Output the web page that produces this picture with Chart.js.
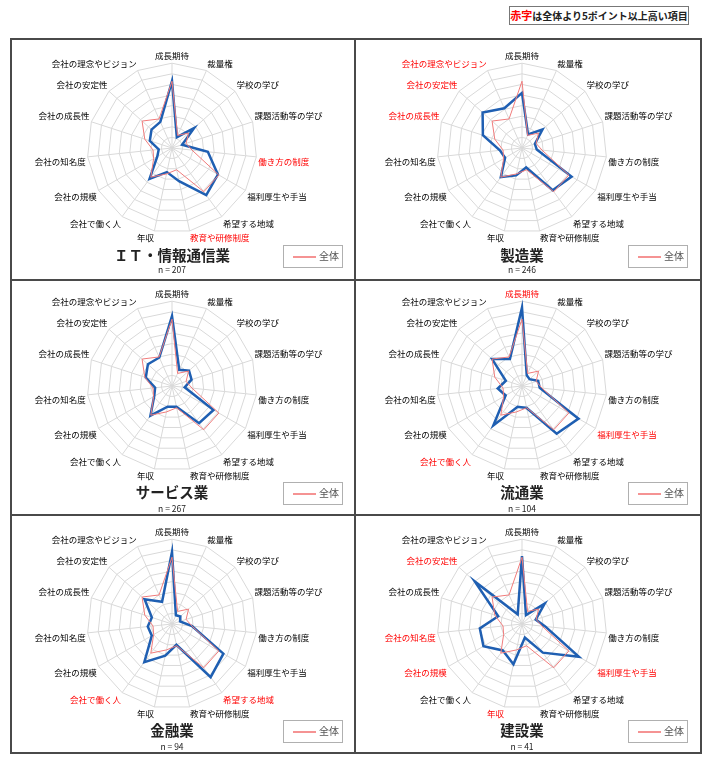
<!DOCTYPE html>
<html lang="ja">
<head>
<meta charset="utf-8">
<script src="https://cdn.jsdelivr.net/npm/chart.js@4.4.0/dist/chart.umd.min.js"></script>
<style>
  body { margin: 0; width: 710px; height: 760px; background: #fff; position: relative; overflow: hidden;
         font-family: "Noto Sans CJK JP", "Noto Sans", sans-serif; }
  #note { position: absolute; left: 509px; top: 6px; width: 178px; height: 17px; border: 1px solid #777;
          font-size: 10px; font-weight: bold; line-height: 17px; text-align: center; color: #222; }
  #note span { color: #ff0000; font-size: 11px; }
  #frame { position: absolute; left: 10px; top: 38px; width: 688px; height: 712px; border: 2px solid #4a4a4a; }
  .hline, .vline { position: absolute; background: #4a4a4a; }
  .box { position: absolute; }
  .title { position: absolute; width: 300px; text-align: center; font-size: 14.5px; font-weight: bold;
           line-height: 18px; color: #222; }
  .nlabel { position: absolute; width: 100px; text-align: center; font-size: 8.5px; line-height: 10px; color: #222; }
  .legend { position: absolute; width: 58px; height: 21px; border: 1px solid #b0b0b0; background: #fff; }
  .legend i { display: block; position: absolute; left: 9px; top: 10px; width: 23px; height: 2px; background: #f59393; }
  .legend b { position: absolute; left: 35px; top: 3px; font-size: 10px; font-weight: normal; line-height: 14px; color: #555; }
</style>
</head>
<body>
<div id="note"><span>赤字</span>は全体より5ポイント以上高い項目</div>
<div id="frame"></div>
<div class="vline" style="left:354px; top:38px; width:2px; height:714px;"></div>
<div class="hline" style="left:10px; top:279px; width:690px; height:2px;"></div>
<div class="hline" style="left:10px; top:514px; width:690px; height:2px;"></div>

<script>
// 項目（レーダーの軸）
const items = ["成長期待", "裁量権", "学校の学び", "課題活動等の学び", "働き方の制度", "福利厚生や手当",
  "希望する地域", "教育や研修制度", "年収", "会社で働く人", "会社の規模", "会社の知名度",
  "会社の成長性", "会社の安定性", "会社の理念やビジョン"];

// 全体
const overall = [31.5, 6.5, 10.5, 7, 9.5, 25.5, 25.5, 10.5, 12.5, 17, 10, 9, 13.5, 19, 15];

// 業種別
const itData       = [31.5, 5.6, 14, 5, 17, 25, 27.5, 16, 11.6, 18, 8, 6.3, 11, 13, 13.5];
const seizoData    = [26, 7, 13, 6.4, 7, 27, 24.6, 9.4, 13.2, 17, 9.2, 10.5, 19.4, 25, 20.5];
const serviceData  = [33, 8.4, 10.8, 9.7, 6, 22.6, 21.7, 10, 10, 17.3, 9.7, 8, 13, 15.3, 14.7];
const ryutsuData   = [37, 5.5, 4.8, 8, 8.4, 30.8, 27.8, 10.6, 10, 23, 8.9, 11.5, 8, 19, 14];
const kinyuData    = [34, 4.5, 5.3, 4, 9.5, 28, 31, 10, 15.3, 22.2, 11, 11.5, 10, 17.4, 11.5];
const kensetsuData = [32, 4.6, 14.4, 6.8, 11, 31, 16.7, 6.5, 19.4, 15.4, 21, 20, 11.8, 30, 5];

const industryNames = ["ＩＴ・情報通信業", "製造業", "サービス業", "流通業", "金融業", "建設業"];
const sampleSizes = [207, 246, 267, 104, 94, 41];
const industryData = [itData, seizoData, serviceData, ryutsuData, kinyuData, kensetsuData];

// レイアウト
const centerX = [172, 522];
const centerY = [149, 387, 625];
const titleY = [255, 492, 730];
const nY = [269, 508, 746];
const legendTop = [245, 482, 720];
const cellLeft = [10, 355];

const W = 340, H = 194;

industryNames.forEach(function (name, k) {
    const col = k % 2, row = Math.floor(k / 2);
    const values = industryData[k];

    const box = document.createElement("div");
    box.className = "box";
    box.style.left = (centerX[col] - W / 2) + "px";
    box.style.top = (centerY[row] - 98) + "px";
    const canvas = document.createElement("canvas");
    canvas.width = W;
    canvas.height = H;
    box.appendChild(canvas);
    document.body.appendChild(box);

    const t = document.createElement("div");
    t.className = "title";
    t.textContent = name;
    t.style.left = (centerX[col] - 150) + "px";
    t.style.top = (titleY[row] - 9) + "px";
    document.body.appendChild(t);

    const n = document.createElement("div");
    n.className = "nlabel";
    n.textContent = "n = " + sampleSizes[k];
    n.style.left = (centerX[col] - 50) + "px";
    n.style.top = (nY[row] - 5) + "px";
    document.body.appendChild(n);

    const lg = document.createElement("div");
    lg.className = "legend";
    lg.innerHTML = "<i></i><b>全体</b>";
    lg.style.left = (cellLeft[col] + 273) + "px";
    lg.style.top = legendTop[row] + "px";
    document.body.appendChild(lg);

    new Chart(canvas.getContext("2d"), {
        type: "radar",
        data: {
            labels: items,
            datasets: [
                {
                    label: "全体",
                    data: overall,
                    borderColor: "#f07c7c",
                    borderWidth: 1,
                    pointRadius: 0,
                    fill: false
                },
                {
                    label: name,
                    data: values,
                    borderColor: "#1f5fb2",
                    borderWidth: 2.5,
                    pointRadius: 0,
                    fill: false
                }
            ]
        },
        options: {
            responsive: false,
            animation: false,
            devicePixelRatio: 1,
            plugins: { legend: { display: false }, tooltip: { enabled: false } },
            elements: { line: { tension: 0 } },
            scales: {
                r: {
                    min: 0,
                    max: 40,
                    ticks: { stepSize: 5, display: false },
                    grid: { color: "#d9d9d9", lineWidth: 1 },
                    angleLines: { color: "#d9d9d9", lineWidth: 1 },
                    pointLabels: {
                        padding: 2,
                        font: { size: 8.5, family: "'Noto Sans CJK JP'" },
                        color: function (c) {
                            return values[c.index] - overall[c.index] >= 5 ? "#ff0000" : "#000";
                        }
                    }
                }
            }
        }
    });
});
</script>
</body>
</html>
